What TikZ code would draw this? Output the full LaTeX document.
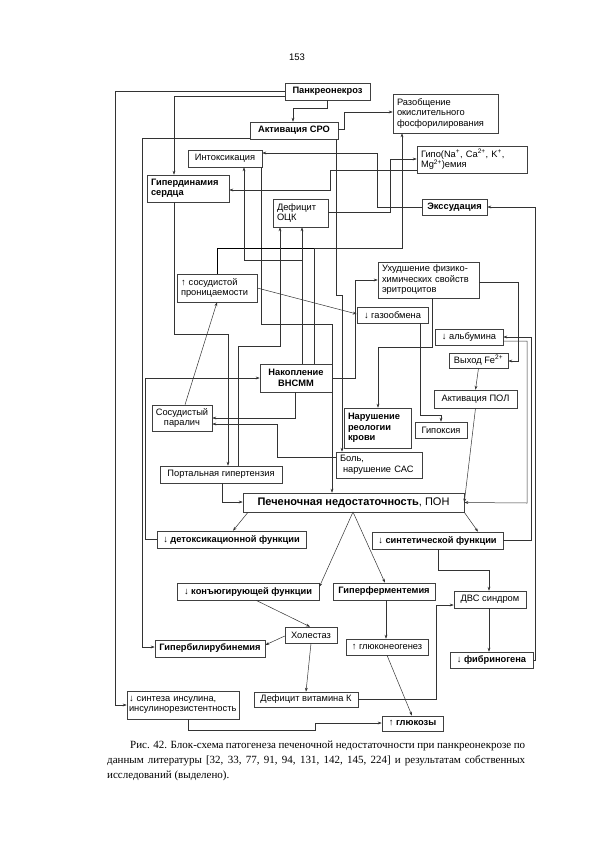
\documentclass[tikz,border=0pt]{standalone}
\usepackage{fontspec}
\setmainfont{Liberation Serif}
\setsansfont{Liberation Sans}
\usetikzlibrary{arrows.meta}
\tikzset{>={Stealth[length=4pt,width=2.8pt]}}
\tikzset{
  blk/.style={draw=black!75, line width=0.55pt, inner sep=1.5pt, align=center,
    font=\sffamily\fontsize{9.3}{10.5}\selectfont},
  lft/.style={align=left, text width=#1, inner xsep=4pt},
  ln/.style={draw=black!80, line width=0.5pt, ->},
}
\begin{document}
\begin{tikzpicture}[x=1pt,y=-1pt]
\useasboundingbox[fill=white] (0,0) rectangle (594,841);
\node[font=\sffamily\fontsize{9.5}{10}\selectfont] (pgnum) at (297,57) {153};

% boxes
\node[blk, minimum width=85pt, minimum height=17pt] (pankr) at (327.5,91.5) {\textbf{Панкреонекроз}};
\node[blk, minimum width=88pt, minimum height=17pt] (sro) at (294,130.5) {\textbf{Активация СРО}};
\node[blk, lft=97pt, minimum height=39pt] (razob) at (445.5,113.5) {Разобщение\\окислительного\\фосфорилирования};
\node[blk, minimum width=74pt, minimum height=17pt] (intox) at (225,158.5) {Интоксикация};
\node[blk, lft=102pt, minimum height=27pt] (gipo) at (472,159.5) {Гипо(Na\textsuperscript{+}, Ca\textsuperscript{2+}, K\textsuperscript{+},\\Mg\textsuperscript{2+})емия};
\node[blk, lft=74pt, minimum height=27pt] (hyperdyn) at (188,188.5) {\textbf{Гипердинамия}\\\textbf{сердца}};
\node[blk, lft=47pt, minimum height=28pt] (ock) at (300.5,213) {Дефицит\\ОЦК};
\node[blk, minimum width=65pt, minimum height=16pt] (exsud) at (454.5,207) {\textbf{Экссудация}};
\node[blk, lft=72pt, minimum height=28pt] (perm) at (217,288) {↑ сосудистой\\проницаемости};
\node[blk, lft=93pt, minimum height=36pt] (erythro) at (428.5,280) {Ухудшение физико-\\химических свойств\\эритроцитов};
\node[blk, minimum width=71pt, minimum height=16pt] (gas) at (392.5,315) {↓ газообмена};
\node[blk, minimum width=68pt, minimum height=16pt] (alb) at (469,337) {↓ альбумина};
\node[blk, minimum width=59pt, minimum height=15pt] (fe) at (478.5,360.5) {Выход Fe\textsuperscript{2+}};
\node[blk, minimum width=83pt, minimum height=18pt] (pol) at (475.5,399) {Активация ПОЛ};
\node[blk, minimum width=72pt, minimum height=28pt] (vnsmm) at (296,378) {\textbf{Накопление}\\\textbf{ВНСММ}};
\node[blk, minimum width=60pt, minimum height=26pt] (paral) at (182,418) {Сосудистый\\паралич};
\node[blk, lft=59pt, minimum height=40pt] (rheo) at (377.5,428) {\textbf{Нарушение}\\\textbf{реологии}\\\textbf{крови}};
\node[blk, minimum width=52pt, minimum height=16pt] (hypox) at (441,430) {Гипоксия};
\node[blk, lft=78pt, minimum height=26pt] (pain) at (379,465) {Боль,\\\hspace*{3pt}нарушение САС};
\node[blk, minimum width=122pt, minimum height=17pt] (portal) at (221,474.5) {Портальная гипертензия};
\node[blk, minimum width=221pt, minimum height=19pt, font=\sffamily\fontsize{11}{12}\selectfont] (pon) at (353.5,502.5) {\textbf{Печеночная недостаточность}, ПОН};
\node[blk, minimum width=149pt, minimum height=17pt] (detox) at (231.5,539.5) {↓ \textbf{детоксикационной функции}};
\node[blk, minimum width=131pt, minimum height=17pt] (synth) at (437.5,540.5) {↓ \textbf{синтетической функции}};
\node[blk, minimum width=142pt, minimum height=17pt] (conj) at (248,591.5) {↓ \textbf{конъюгирующей функции}};
\node[blk, minimum width=102pt, minimum height=17pt] (hferm) at (384,591.5) {\textbf{Гиперферментемия}};
\node[blk, minimum width=72pt, minimum height=17pt] (dic) at (490,599.5) {ДВС синдром};
\node[blk, minimum width=52pt, minimum height=16pt] (chol) at (311,635) {Холестаз};
\node[blk, minimum width=110pt, minimum height=17pt] (hbil) at (210,648.5) {\textbf{Гипербилирубинемия}};
\node[blk, minimum width=82pt, minimum height=16pt] (gng) at (387,647) {↑ глюконеогенез};
\node[blk, minimum width=83pt, minimum height=16pt] (fib) at (491.5,660) {↓ \textbf{фибриногена}};
\node[blk, minimum width=104pt, minimum height=15pt] (vitk) at (306,699.5) {Дефицит витамина К};
\node[blk, lft=108pt, inner xsep=2pt, minimum height=28pt] (insul) at (183,705) {↓ синтеза инсулина,\\инсулинорезистентность};
\node[blk, minimum width=61pt, minimum height=15pt] (gluc) at (412.5,723.5) {↑ \textbf{глюкозы}};

% connectors
\draw[ln] (pankr.west |- 0,91) -| (115,705) -- (insul.west |- 0,705);
\draw[ln] (pankr.west |- 0,96) -| (hyperdyn.north -| 174,0);
\draw[ln] (pankr.south -| 327,0) |- (293,108) -- (sro.north -| 293,0);
\draw[ln] (sro.east |- 0,129) -| (344,112) -- (razob.west |- 0,112);
\draw[ln] (sro.west |- 0,138) -| (142,647) -- (hbil.west |- 0,647);
\draw[ln] (sro.south -| 336,0) -- (336,295) -- (342,295) -- (pain.north -| 342,0);
\draw[ln] (intox.south -| 261.5,0) -- (261.5,324) -- (332,324) -- (pon.north -| 332,0);
\draw[ln] (exsud.west) -- (377,207) |- (intox.east |- 0,153);
\draw[ln] (ock.east |- 0,212) -| (390,159) -- (gipo.west |- 0,159);
\draw[ln] (gipo.west |- 0,170) -| (330,190) -- (hyperdyn.east |- 0,190);
\draw[ln] (vnsmm.north -| 314,0) |- (402,248) -- (razob.south -| 402,0);
\draw (perm.north -| 217,0) |- (314,248);
\draw[ln] (vnsmm.north -| 302,0) -- (ock.south -| 302,0);
\coordinate (brint) at (302,260);
\draw[ln] (brint) -| (intox.south -| 244,0);
\draw[ln] (portal.north -| 238,0) |- (280,346) -- (ock.south -| 280,0);
\draw[ln] (hyperdyn.south -| 174,0) |- (228,334) -- (portal.north -| 228,0);
\draw[ln] (perm.east |- 0,288) -- (gas.west |- 0,314);
\draw[ln] (paral.north -| 185,0) -- (perm.south -| 217,0);
\draw[ln] (vnsmm.south -| 295,0) |- (paral.east |- 0,418);
\draw[ln] (pain.west |- 0,457) -| (277,424) -- (paral.east |- 0,424);
\draw[ln] (detox.west) -| (145,378) -- (vnsmm.west |- 0,378);
\draw[ln] (vnsmm.east) -| (355,280) -- (erythro.west |- 0,280);
\draw[ln] (erythro.south -| 432,0) |- (378,347) -- (rheo.north -| 378,0);
\draw[ln] (erythro.east |- 0,282) -| (518,361) -- (fe.east |- 0,361);
\draw[ln] (gas.south -| 420,0) |- (441,415) -- (hypox.north -| 441,0);
\draw[ln] (fe.south) -- (pol.north);
\draw[ln] (pol.south) -- (pon.east);
\draw[ln] (alb.east |- 0,341) -| (527,503) -- (pon.east);
\draw[ln] (synth.east) -| (531,337) -- (alb.east |- 0,337);
\draw[ln] (fib.east) -| (535,207) -- (exsud.east);
\draw[ln] (portal.south -| 222,0) |- (pon.west |- 0,502);
\draw[ln] (pon.south -| 248,0) -- (detox.north -| 233,0);
\draw[ln] (pon.south east) -- (synth.north -| 478,0);
\coordinate (apex) at (353,512);
\draw[ln] (apex) -- (conj.east |- 0,587);
\draw[ln] (apex) -- (hferm.north -| 385,0);
\draw[ln] (conj.south -| 256,0) -- (chol.north -| 310,0);
\draw[ln] (chol.west |- 0,636) -- (hbil.east |- 0,645);
\draw[ln] (chol.south -| 311,0) -- (vitk.north -| 306,0);
\draw[ln] (hferm.south -| 386,0) -- (gng.north -| 386,0);
\draw[ln] (gng.south -| 387,0) -- (gluc.north -| 412,0);
\draw[ln] (insul.south -| 188,0) |- (315,730) |- (gluc.west |- 0,723);
\draw[ln] (vitk.east) -| (436,605) -- (dic.west |- 0,605);
\draw[ln] (synth.south -| 438,0) |- (489,570) -- (dic.north -| 489,0);
\draw[ln] (dic.south -| 489,0) -- (fib.north -| 489,0);

% caption
\node[anchor=north west, text width=418pt, align=justify, inner sep=0pt,
  font=\fontsize{11}{15}\selectfont] (capt) at (107,741)
  {\hspace*{23pt}Рис. 42. Блок-схема патогенеза печеночной недостаточности при панкреонекрозе по\linebreak
  данным литературы [32, 33, 77, 91, 94, 131, 142, 145, 224] и результатам собственных исследований (выделено).};
\end{tikzpicture}
\end{document}
